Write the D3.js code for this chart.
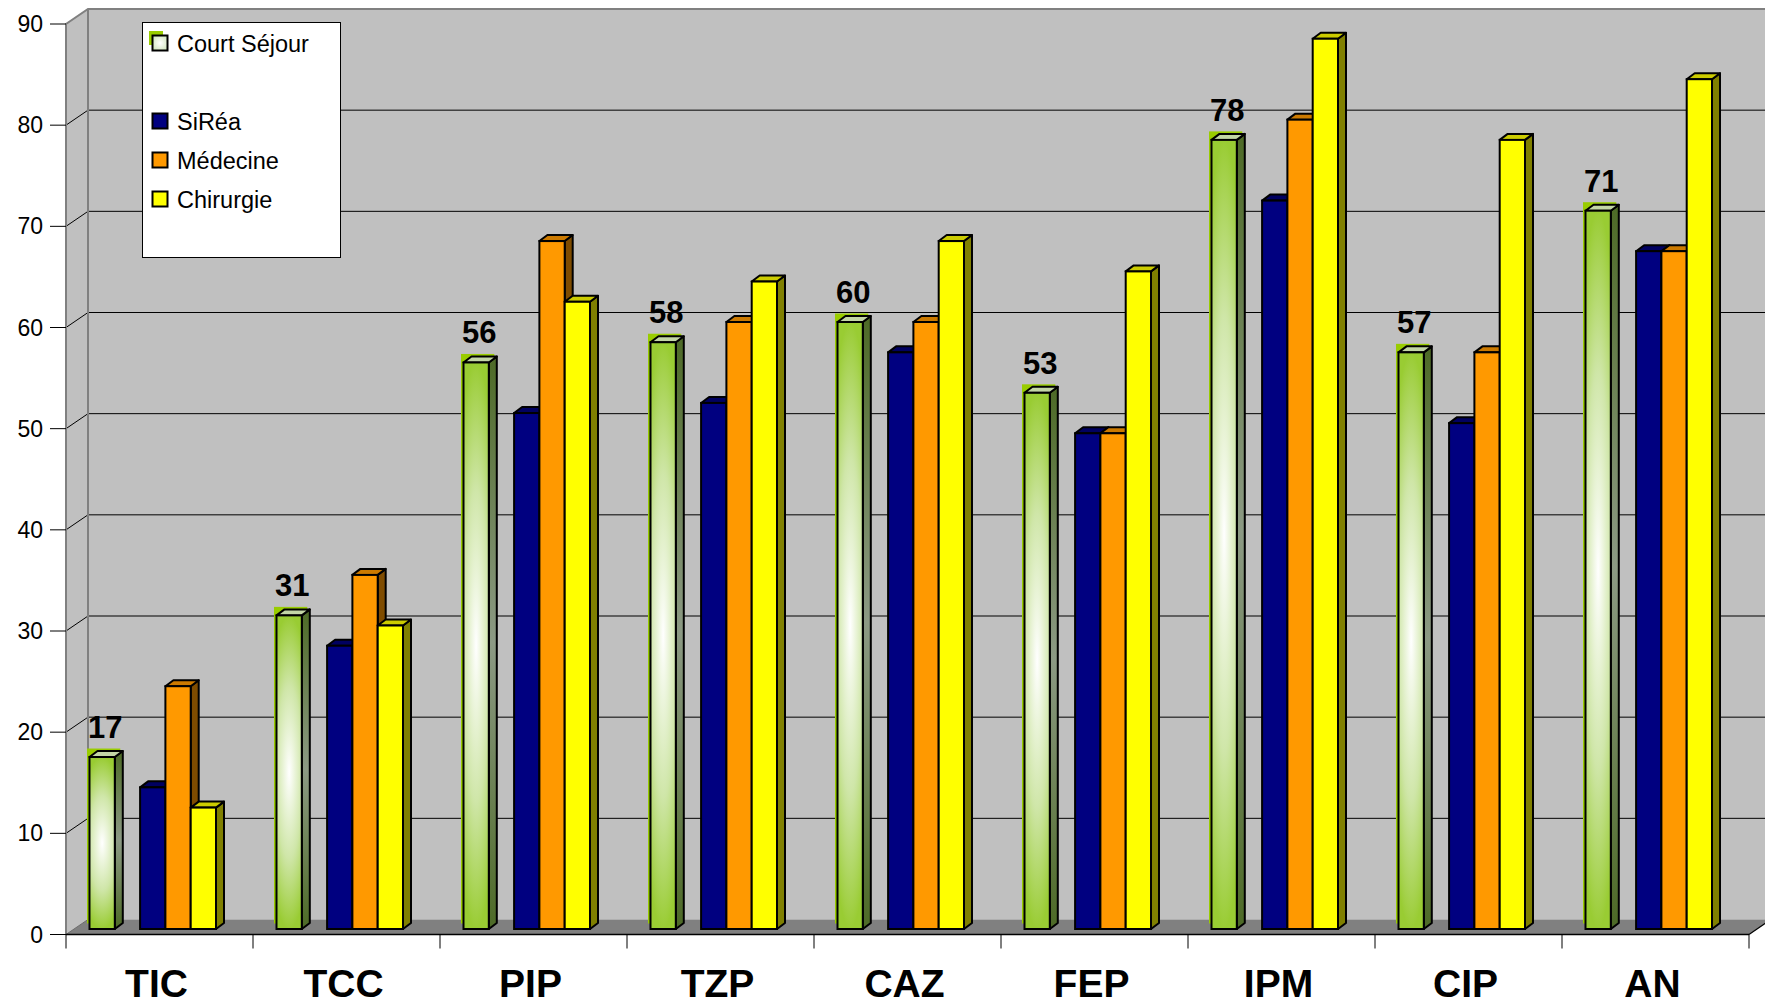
<!DOCTYPE html>
<html>
<head>
<meta charset="utf-8">
<script src="https://cdn.jsdelivr.net/npm/d3@7"></script>
<style>
  html, body { margin: 0; padding: 0; background: #fff; }
  svg { display: block; font-family: Arial, "Liberation Sans", sans-serif; }
</style>
</head>
<body>
<svg id="chart" width="1765" height="1004"></svg>
<script>
// ---- data ----
const categories = ["TIC", "TCC", "PIP", "TZP", "CAZ", "FEP", "IPM", "CIP", "AN"];
const courtSejour = [17, 31, 56, 58, 60, 53, 78, 57, 71];
const siRea       = [14, 28, 51, 52, 57, 49, 72, 50, 67];
const medecine    = [24, 35, 68, 60, 60, 49, 80, 57, 67];
const chirurgie   = [12, 30, 62, 64, 68, 65, 88, 78, 84];
const yTicks = [0, 10, 20, 30, 40, 50, 60, 70, 80, 90];
// The workbook carries an unnamed, empty series between the first two
const seriesNames = ["Court Séjour", "", "SiRéa", "Médecine", "Chirurgie"];

// ---- series table ----
const series = [
  { key: "cs",  name: seriesNames[0], values: courtSejour, front: "url(#gFront)", top: "#c3d6a6", side: "url(#gSide)", labelled: true, halo: true },
  { key: "nil", name: seriesNames[1], values: null },
  { key: "sr",  name: seriesNames[2], values: siRea,     front: "#000080", top: "#000060", side: "#000040" },
  { key: "med", name: seriesNames[3], values: medecine,  front: "#ff9900", top: "#cc7a00", side: "#7f4c00" },
  { key: "chi", name: seriesNames[4], values: chirurgie, front: "#ffff00", top: "#cccc00", side: "#808000" }
];

// ---- geometry ----
const svg = d3.select("#chart");
const left = 66, right = 1749;
const wallDX = 22, wallDY = -15;     // depth of walls/floor
const barDY = -5.5;                  // bars stand slightly behind the front edge
const depthX = 8, depthY = -6;       // depth of each bar

const x = d3.scaleBand().domain(categories).range([left, right]).padding(0);
const y = d3.scaleLinear().domain([0, 90]).range([934.5, 24]);
const slotW = 25.3, slotStart = 23.5;
const slot = d3.scaleBand().domain(series.map(s => s.key))
  .range([slotStart, slotStart + slotW * series.length]).padding(0);

// ---- gradients ----
const defs = svg.append("defs");
const gf = defs.append("radialGradient").attr("id", "gFront")
  .attr("cx", 0.5).attr("cy", 0.5).attr("r", 0.5)
  .attr("gradientTransform", "translate(0.5,0.5) scale(1.9,1) translate(-0.5,-0.5)");
gf.append("stop").attr("offset", "0%").attr("stop-color", "#ffffff");
gf.append("stop").attr("offset", "55%").attr("stop-color", "#cfe6a8");
gf.append("stop").attr("offset", "100%").attr("stop-color", "#99cc33");

const gs = defs.append("linearGradient").attr("id", "gSide")
  .attr("x1", 0).attr("y1", 0).attr("x2", 0).attr("y2", 1);
gs.append("stop").attr("offset", "0%").attr("stop-color", "#4d6a26");
gs.append("stop").attr("offset", "50%").attr("stop-color", "#8c9a84");
gs.append("stop").attr("offset", "100%").attr("stop-color", "#4d6a26");

const gl = defs.append("radialGradient").attr("id", "gLegend")
  .attr("cx", 0.5).attr("cy", 0.5).attr("r", 0.7);
gl.append("stop").attr("offset", "0%").attr("stop-color", "#ffffff");
gl.append("stop").attr("offset", "100%").attr("stop-color", "#c8e0b0");

// ---- walls and floor ----
const y0 = y(0), yTop = y(90);
svg.append("polygon")
  .attr("points", [[left + wallDX, yTop + wallDY], [right + wallDX, yTop + wallDY],
                   [right + wallDX, y0 + wallDY], [left + wallDX, y0 + wallDY]].join(" "))
  .attr("fill", "#c0c0c0");
svg.append("polygon")
  .attr("points", [[left, yTop], [left + wallDX, yTop + wallDY],
                   [left + wallDX, y0 + wallDY], [left, y0]].join(" "))
  .attr("fill", "#c0c0c0");
svg.append("polygon")
  .attr("points", [[left, y0], [right, y0], [right + wallDX, y0 + wallDY], [left + wallDX, y0 + wallDY]].join(" "))
  .attr("fill", "#808080");

// gridlines on back wall and left wall
const grid = yTicks.filter(v => v > 0 && v < 90);
svg.append("g").selectAll("line").data(grid).join("line")
  .attr("x1", left + wallDX).attr("x2", right + wallDX)
  .attr("y1", d => y(d) + wallDY).attr("y2", d => y(d) + wallDY)
  .attr("stroke", "#000").attr("stroke-width", 1);
svg.append("g").selectAll("line").data(grid).join("line")
  .attr("x1", left).attr("x2", left + wallDX)
  .attr("y1", d => y(d)).attr("y2", d => y(d) + wallDY)
  .attr("stroke", "#000").attr("stroke-width", 1);

// wall edges
const edge = svg.append("g").attr("stroke", "#808080").attr("stroke-width", 2).attr("fill", "none");
edge.append("polyline").attr("points", [[left, y0], [left, yTop], [left + wallDX, yTop + wallDY], [right + wallDX + 5, yTop + wallDY]].join(" "));
edge.append("line").attr("x1", left + wallDX).attr("x2", left + wallDX).attr("y1", yTop + wallDY).attr("y2", y0 + wallDY);
edge.append("line").attr("x1", left).attr("x2", left + wallDX).attr("y1", y0).attr("y2", y0 + wallDY)
  .attr("stroke", "#6a6a6a").attr("stroke-width", 1);

// floor front edge and category ticks
svg.append("line").attr("x1", left).attr("x2", right).attr("y1", y0).attr("y2", y0)
  .attr("stroke", "#000").attr("stroke-width", 1.5);
svg.append("line").attr("x1", right).attr("x2", right + wallDX).attr("y1", y0).attr("y2", y0 + wallDY)
  .attr("stroke", "#000").attr("stroke-width", 1.2);
const bounds = categories.map(c => x(c)).concat([right]);
svg.append("g").selectAll("line").data(bounds).join("line")
  .attr("x1", d => d).attr("x2", d => d).attr("y1", y0).attr("y2", y0 + 14)
  .attr("stroke", "#000").attr("stroke-width", 1);

// value axis ticks and labels
svg.append("g").selectAll("line").data(yTicks).join("line")
  .attr("x1", left - 16).attr("x2", left).attr("y1", d => y(d)).attr("y2", d => y(d))
  .attr("stroke", "#000").attr("stroke-width", 1);
svg.append("g").selectAll("text").data(yTicks).join("text")
  .attr("x", left - 23).attr("y", d => y(d) + 8)
  .attr("text-anchor", "end").attr("font-size", 23).attr("fill", "#000")
  .text(d => d);

// ---- bars ----
const barsG = svg.append("g");
const drawn = series.filter(s => s.values);
categories.forEach((cat, i) => {
  drawn.forEach(s => {
    const v = s.values[i];
    const x0 = x(cat) + slot(s.key), x1 = x0 + slot.bandwidth();
    const yt = y(v) + barDY, yb = y(0) + barDY;
    const g = barsG.append("g");
    if (s.halo) {
      g.append("rect").attr("x", x0 - 2.5).attr("y", yt + depthY - 2.5)
        .attr("width", x1 - x0 + depthX).attr("height", yb - yt - depthY - 3)
        .attr("fill", "#99cc00");
    }
    g.append("polygon")
      .attr("points", [[x1, yt], [x1 + depthX, yt + depthY], [x1 + depthX, yb + depthY], [x1, yb]].join(" "))
      .attr("fill", s.side).attr("stroke", "#000").attr("stroke-width", 2).attr("stroke-linejoin", "round");
    g.append("polygon")
      .attr("points", [[x0, yt], [x0 + depthX, yt + depthY], [x1 + depthX, yt + depthY], [x1, yt]].join(" "))
      .attr("fill", s.top).attr("stroke", "#000").attr("stroke-width", 2).attr("stroke-linejoin", "round");
    g.append("rect").attr("x", x0).attr("y", yt).attr("width", x1 - x0).attr("height", yb - yt)
      .attr("fill", s.front).attr("stroke", "#000").attr("stroke-width", 2);
    if (s.labelled) {
      svg.append("text").attr("x", (x0 + x1) / 2 + 3).attr("y", yt - 19)
        .attr("text-anchor", "middle").attr("font-size", 31).attr("font-weight", "bold")
        .attr("fill", "#000").text(v);
    }
  });
});

// category labels
svg.append("g").selectAll("text").data(categories).join("text")
  .attr("x", d => x(d) + x.bandwidth() / 2 - 3).attr("y", 997)
  .attr("text-anchor", "middle").attr("font-size", 39).attr("font-weight", "bold")
  .attr("fill", "#000").text(d => d);

// ---- legend ----
const lg = svg.append("g");
lg.append("rect").attr("x", 142.5).attr("y", 22.5).attr("width", 198).attr("height", 235)
  .attr("fill", "#fff").attr("stroke", "#000").attr("stroke-width", 1);
series.forEach((s, i) => {
  const cy = 43 + 39 * i;
  if (!s.values) return;
  if (s.halo) {
    lg.append("rect").attr("x", 149).attr("y", cy - 12).attr("width", 14).attr("height", 14).attr("fill", "#99cc00");
  }
  lg.append("rect").attr("x", 152.5).attr("y", cy - 7.5).attr("width", 15).attr("height", 15)
    .attr("fill", s.halo ? "url(#gLegend)" : s.front).attr("stroke", "#000").attr("stroke-width", 2);
  lg.append("text").attr("x", 177).attr("y", cy + 8.5).attr("font-size", 23.5).attr("fill", "#000").text(s.name);
});
</script>
</body>
</html>
